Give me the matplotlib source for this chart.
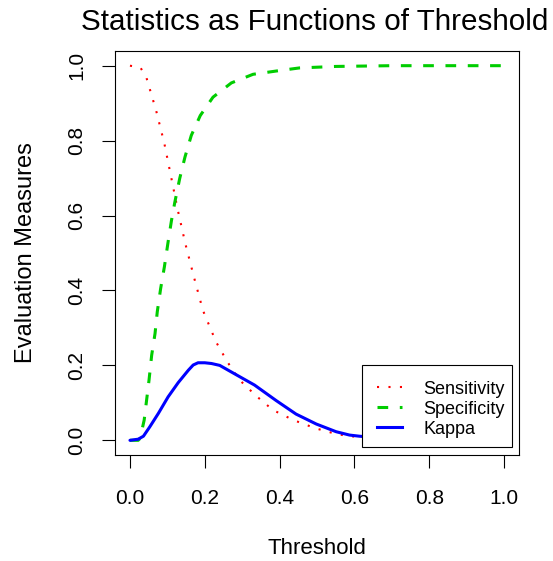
import matplotlib
matplotlib.use("Agg")
import matplotlib.pyplot as plt
from matplotlib.lines import Line2D
from matplotlib.patches import Rectangle

plt.rcParams['font.family'] = ['Liberation Sans', 'DejaVu Sans']

# values
sens_x = [0, 0.028, 0.044, 0.07, 0.092, 0.11, 0.128, 0.148, 0.171, 0.195, 0.23, 0.26,
          0.293, 0.338, 0.382, 0.437, 0.496, 0.555, 0.613, 0.7, 0.8, 0.9, 1.0]
sens_y = [1.0, 0.995, 0.968, 0.88, 0.792, 0.703, 0.614, 0.525, 0.436, 0.347, 0.263, 0.21,
          0.161, 0.118, 0.081, 0.054, 0.032, 0.016, 0.008, 0.003, 0.001, 0.0, 0.0]

spec_x = [0, 0.022, 0.027, 0.038, 0.051, 0.058, 0.067, 0.073, 0.082, 0.092, 0.102, 0.111,
          0.12, 0.133, 0.147, 0.164, 0.188, 0.222, 0.271, 0.329, 0.4, 0.453, 0.55, 0.7, 1.0]
spec_y = [0, 0.0, 0.005, 0.054, 0.161, 0.227, 0.285, 0.343, 0.405, 0.463, 0.53, 0.587,
          0.636, 0.699, 0.756, 0.814, 0.867, 0.916, 0.954, 0.977, 0.987, 0.994, 0.998, 1.0, 1.0]

kappa_x = [0, 0.022, 0.036, 0.053, 0.076, 0.102, 0.129, 0.156, 0.169, 0.182, 0.2, 0.218,
           0.24, 0.262, 0.293, 0.333, 0.391, 0.444, 0.498, 0.551, 0.587, 0.613, 0.7, 0.8,
           0.9, 1.0]
kappa_y = [0, 0.003, 0.011, 0.036, 0.072, 0.116, 0.154, 0.187, 0.201, 0.207, 0.207, 0.205,
           0.2, 0.1875, 0.17, 0.1475, 0.106, 0.07, 0.0435, 0.023, 0.014, 0.011, 0.004, 0.001,
           0.0, 0.0]

ticks = [0.0, 0.2, 0.4, 0.6, 0.8, 1.0]
tick_labels = ["0.0", "0.2", "0.4", "0.6", "0.8", "1.0"]

RED, GREEN, BLUE = '#ff0000', '#00cd00', '#0000ff'
dot_style = (0, (1, 4.5))
dash_style = (0, (3.5, 3.8))

W, H = 553, 561
fig = plt.figure(figsize=(W / 100, H / 100), dpi=100)
ax = fig.add_axes([115 / W, 1 - 455.3 / H, 404 / W, 404.6 / H])

ax.plot(sens_x, sens_y, color=RED, lw=1.5, linestyle=dot_style, dash_capstyle='butt')
ax.plot(spec_x, spec_y, color=GREEN, lw=2.2, linestyle=dash_style)
ax.plot(kappa_x, kappa_y, color=BLUE, lw=2.2, solid_capstyle='round',
        solid_joinstyle='round')

ax.set_xlim(-0.04, 1.04)
ax.set_ylim(-0.04, 1.04)
ax.set_xticks(ticks)
ax.set_xticklabels(tick_labels)
ax.set_yticks(ticks)
ax.set_yticklabels(tick_labels, rotation=90, va='center')
ax.tick_params(length=9.7, width=0.8, labelsize=15, pad=11)
ax.tick_params(axis='x', pad=14.5)
for s in ax.spines.values():
    s.set_linewidth(0.8)

ax.set_xlabel('Threshold', fontsize=16, va='center')
ax.xaxis.set_label_coords(0.5, (455.3 - 548) / 404.6)
ax.set_ylabel('Evaluation Measures', fontsize=17, va='center')
ax.yaxis.set_label_coords((26 - 115) / 404, 0.5)

fig.text(315 / W, 1 - 22 / H, 'Statistics as Functions of Threshold',
         fontsize=21.3, ha='center', va='center')

# legend box drawn on its own so the padding can match the R legend
box = Rectangle((361.7 / W, 1 - 447.3 / H), 150 / W, 82.3 / H,
                transform=fig.transFigure, facecolor='white', edgecolor='black',
                lw=0.8, zorder=4, clip_on=False)
ax.add_patch(box)

handles = [
    Line2D([], [], color=RED, lw=1.5, linestyle=dot_style, dash_capstyle='butt'),
    Line2D([], [], color=GREEN, lw=2.2, linestyle=dash_style),
    Line2D([], [], color=BLUE, lw=2.2),
]
leg = ax.legend(handles, ['Sensitivity', 'Specificity', 'Kappa'],
                loc='upper left', bbox_to_anchor=(376.7 / W, 1 - 380.5 / H),
                bbox_transform=fig.transFigure, borderaxespad=0, borderpad=0,
                fontsize=13, frameon=False,
                handlelength=1.38, handletextpad=1.19, labelspacing=0.17)
leg.set_zorder(5)

fig.savefig('out.png', dpi=100)
